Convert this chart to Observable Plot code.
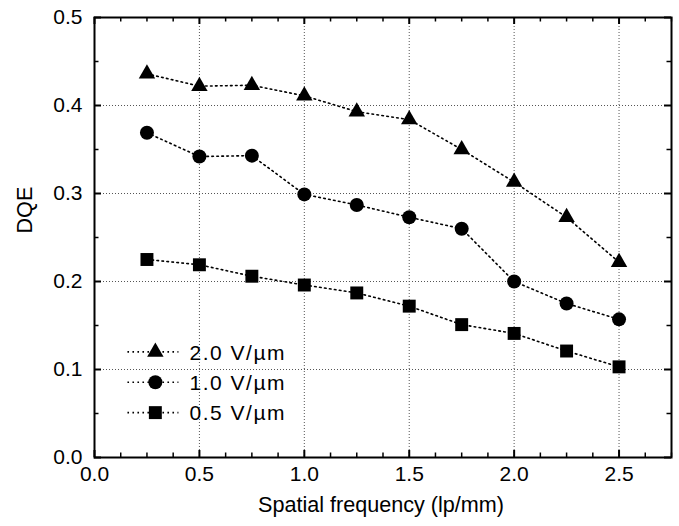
<!DOCTYPE html>
<html>
<head>
<meta charset="utf-8">
<script src="https://cdn.jsdelivr.net/npm/d3@7"></script>
<script src="https://cdn.jsdelivr.net/npm/@observablehq/plot@0.6"></script>
<style>
  html, body { margin: 0; padding: 0; background: #fff; }
  #chart svg { display: block; }
</style>
</head>
<body>
<div id="chart"></div>
<script>
// Spatial frequency (lp/mm)
const freq = [0.25, 0.5, 0.75, 1.0, 1.25, 1.5, 1.75, 2.0, 2.25, 2.5];
// DQE per field strength
const dqe20 = [0.436, 0.422, 0.423, 0.411, 0.393, 0.384, 0.350, 0.313, 0.273, 0.222];
const dqe10 = [0.369, 0.342, 0.343, 0.299, 0.287, 0.273, 0.260, 0.200, 0.175, 0.157];
const dqe05 = [0.225, 0.219, 0.206, 0.196, 0.187, 0.172, 0.151, 0.141, 0.121, 0.103];
const seriesLabels = ["2.0 V/µm", "1.0 V/µm", "0.5 V/µm"];
const seriesSymbols = ["triangle", "circle", "square"];
const xTicks = [0, 0.5, 1.0, 1.5, 2.0, 2.5];
const yTicks = [0, 0.1, 0.2, 0.3, 0.4, 0.5];
const xMinor = d3.range(0, 2.751, 0.125).filter(v => Math.abs((v / 0.5) - Math.round(v / 0.5)) > 1e-6);
const yMinor = [0.05, 0.15, 0.25, 0.35, 0.45];

const seriesValues = [dqe20, dqe10, dqe05];
const rSizes = [6.1, 7, 7.3];
const data = seriesValues.flatMap((vals, s) => vals.map((v, i) => ({x: freq[i], y: v, s})));

const W = 679, H = 526;
const mL = 94, mR = 8, mT = 17, mB = 69;
const fw = W - mL - mR, fh = H - mT - mB;
const font = "Liberation Sans, Arial, Helvetica, sans-serif";

const legendY = i => 0.12 - i * 0.0345;

const marks = [
  Plot.gridX(xTicks.filter(v => v > 0), {stroke: "#555", strokeOpacity: 1, strokeWidth: 1, strokeDasharray: "1,2"}),
  Plot.gridY(yTicks.filter(v => v > 0 && v < 0.5), {stroke: "#555", strokeOpacity: 1, strokeWidth: 1, strokeDasharray: "1,2"}),
  // series lines
  ...seriesValues.map((vals, s) => Plot.line(data.filter(d => d.s === s), {x: "x", y: "y", stroke: "#000", strokeWidth: 1.6, strokeDasharray: "1.6,3.4"})),
  ...seriesValues.map((vals, s) => Plot.dot(data.filter(d => d.s === s), {x: "x", y: "y", symbol: () => seriesSymbols[s], r: rSizes[s], fill: "#000", stroke: "none"})),
  // legend
  Plot.link(seriesLabels, {x1: 0.157, x2: 0.40, y1: (d, i) => legendY(i), y2: (d, i) => legendY(i), stroke: "#000", strokeWidth: 1.6, strokeDasharray: "1.6,3.4"}),
  ...seriesLabels.map((lab, i) => Plot.dot([lab], {x: () => 0.29, y: () => legendY(i), symbol: () => seriesSymbols[i], r: rSizes[i], fill: "#000", stroke: "none"})),
  Plot.text(seriesLabels, {x: () => 0.453, y: (d, i) => legendY(i), text: d => d, textAnchor: "start", fontSize: 21, fill: "#000", dy: 1}),
  // tick marks inside (bottom/top)
  Plot.tickX(xTicks, {x: d => d, insetTop: fh - 7, stroke: "#000", strokeWidth: 2}),
  Plot.tickX(xTicks, {x: d => d, insetBottom: fh - 7, stroke: "#000", strokeWidth: 2}),
  Plot.tickX(xMinor, {x: d => d, insetTop: fh - 4.5, stroke: "#000", strokeWidth: 1.5}),
  Plot.tickX(xMinor, {x: d => d, insetBottom: fh - 4.5, stroke: "#000", strokeWidth: 1.5}),
  // tick marks inside (left/right)
  Plot.tickY(yTicks, {y: d => d, insetRight: fw - 7, stroke: "#000", strokeWidth: 2}),
  Plot.tickY(yTicks, {y: d => d, insetLeft: fw - 7, stroke: "#000", strokeWidth: 2}),
  Plot.tickY(yMinor, {y: d => d, insetRight: fw - 4.5, stroke: "#000", strokeWidth: 1.5}),
  Plot.tickY(yMinor, {y: d => d, insetLeft: fw - 4.5, stroke: "#000", strokeWidth: 1.5}),
  Plot.frame({stroke: "#000", strokeWidth: 2}),
  Plot.axisX(xTicks, {tickSize: 0, tickPadding: 9, tickFormat: d3.format(".1f"), fontSize: 21, label: null, fill: "#000"}),
  Plot.axisY(yTicks, {tickSize: 0, tickPadding: 12, tickFormat: d3.format(".1f"), fontSize: 21, label: null, fill: "#000"}),
  Plot.text(["Spatial frequency (lp/mm)"], {frameAnchor: "bottom", dy: 54, dx: -2, text: d => d, fontSize: 21.6, fill: "#000"}),
  Plot.text(["DQE"], {frameAnchor: "left", dx: -69, dy: -4, rotate: -90, text: d => d, fontSize: 21.6, fill: "#000"})
];

const chart = Plot.plot({
  width: W,
  height: H,
  marginLeft: mL,
  marginRight: mR,
  marginTop: mT,
  marginBottom: mB,
  x: {domain: [0, 2.75], axis: null},
  y: {domain: [0, 0.5], axis: null},
  style: {fontFamily: font, background: "#fff", color: "#000"},
  marks
});
// widen legend label spacing as in the reference
d3.select(chart).selectAll("text").filter(function () { return seriesLabels.includes(this.textContent); })
  .attr("letter-spacing", "1.5px");
document.getElementById("chart").appendChild(chart);
</script>
</body>
</html>
